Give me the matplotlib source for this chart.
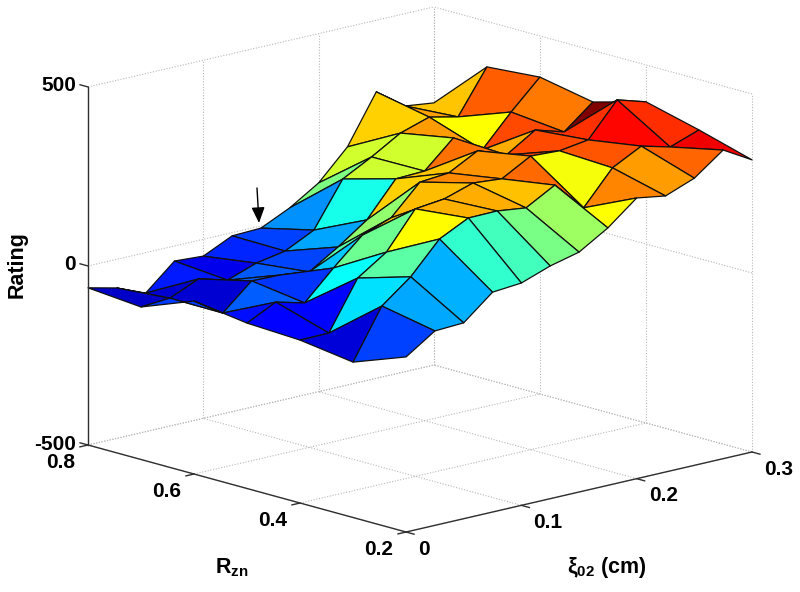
import matplotlib
matplotlib.use('Agg')
import matplotlib.pyplot as plt
from matplotlib.colors import LinearSegmentedColormap
import numpy as np
from mpl_toolkits.mplot3d import proj3d

plt.rcParams['font.family'] = ['Liberation Sans', 'DejaVu Sans']
plt.rcParams['font.weight'] = 'bold'
plt.rcParams['mathtext.fontset'] = 'custom'
plt.rcParams['mathtext.bf'] = 'Liberation Sans:bold'
plt.rcParams['mathtext.rm'] = 'Liberation Sans:bold'
plt.rcParams['mathtext.default'] = 'bf'

xi = [0, .025, .05, .075, .1, .125, .15, .175, .2, .225, .25, .275, .3]
rzn = [.2, .3, .4, .5, .6, .7, .8]

# rating, one row per Rzn value
rating_r2 = [-11, 43, 47, 114, 121, 150, 170, 219, 284, 271, 302, 362, 316]
rating_r3 = [-66, 72, 135, 222, 262, 263, 253, 298, 216, 309, 351, 330, 359]
rating_r4 = [-45, -44, 91, 145, 247, 256, 282, 275, 320, 316, 328, 421, 397]
rating_r5 = [-38, 2, -19, 60, 133, 163, 244, 251, 294, 264, 315, 291, 356]
rating_r6 = [-17, -69, 2, 0, -10, 41, 98, 194, 197, 271, 219, 306, 385]
rating_r7 = [-74, -68, -33, -55, -26, -11, 29, 153, 196, 244, 270, 252, 373]
rating_r8 = [-61, -80, -113, -42, -47, -9, -6, 32, 83, 165, 300, 242, 232]

xticks = [0, .1, .2, .3]
yticks = [.2, .4, .6, .8]
zticks = [-500, 0, 500]
xticklabels = ['0', '0.1', '0.2', '0.3']
yticklabels = ['0.2', '0.4', '0.6', '0.8']
zticklabels = ['-500', '0', '500']

X, Y = np.meshgrid(xi, rzn)
Z = np.array([rating_r2, rating_r3, rating_r4, rating_r5, rating_r6, rating_r7, rating_r8])

# matlab's jet is a bit different from the matplotlib one
matlab_jet = LinearSegmentedColormap('matlab_jet', {
    'red': [(0, 0, 0), (.375, 0, 0), (.625, 1, 1), (.875, 1, 1), (1, .5, .5)],
    'green': [(0, 0, 0), (.125, 0, 0), (.375, 1, 1), (.625, 1, 1), (.875, 0, 0), (1, 0, 0)],
    'blue': [(0, .5, .5), (.125, 1, 1), (.375, 1, 1), (.625, 0, 0), (1, 0, 0)],
})

W, H = 800, 592
fig = plt.figure(figsize=(W / 100, H / 100), dpi=100)
ax = fig.add_axes([0.1, 0.1, 0.8, 0.8 * W / H], projection='3d')
ax.set_proj_type('ortho')
ax.view_init(elev=14.57, azim=-132.6)
ax.set_box_aspect((470, 470, 370))
ax.set_xlim(0, .3)
ax.set_ylim(.2, .8)
ax.set_zlim(-500, 500)
ax.set_axis_off()
ax.computed_zorder = False


def to_px(x, y, z):
    px, py, _ = proj3d.proj_transform(x, y, z, ax.get_proj())
    dx, dy = ax.transData.transform((px, py))
    return dx, H - dy


# fit the axes so that the box corners land where they should
for _ in range(3):
    fig.canvas.draw()
    left = to_px(0, .8, -500)
    right = to_px(.3, .2, -500)
    scale = 664 / (right[0] - left[0])
    pos = ax.get_position(original=True)
    w, h = pos.width * scale, pos.height * scale
    cx = pos.x0 + pos.width / 2 + (88 - left[0]) / W
    cy = pos.y0 + pos.height / 2 - (445 - left[1]) / H
    ax.set_position([cx - w / 2, cy - h / 2, w, h])

fig.canvas.draw()

# dotted grid on floor and the two back walls
grid = dict(color='#b8b8b8', lw=0.8, ls=(0, (1, 1.5)), zorder=1, clip_on=False)
for x in xticks:
    ax.plot([x, x], [.2, .8], [-500, -500], **grid)
    ax.plot([x, x], [.8, .8], [-500, 500], **grid)
for y in yticks:
    ax.plot([0, .3], [y, y], [-500, -500], **grid)
    ax.plot([.3, .3], [y, y], [-500, 500], **grid)
for z in zticks:
    ax.plot([0, .3], [.8, .8], [z, z], **grid)
    ax.plot([.3, .3], [.2, .8], [z, z], **grid)

# flat faces, colour taken from the lower corner like matlab surf
norm = plt.Normalize(Z.min(), Z.max())
colors = matlab_jet(norm(Z))
ax.plot_surface(X, Y, Z, facecolors=colors, rstride=1, cstride=1, shade=False,
                edgecolor='#101010', linewidth=0.9, antialiased=True, zorder=2)

# axes lines and ticks
line = dict(color='#303030', lw=1.0, zorder=3, clip_on=False)
ax.plot([0, .3], [.2, .2], [-500, -500], **line)
ax.plot([0, 0], [.2, .8], [-500, -500], **line)
ax.plot([0, 0], [.8, .8], [-500, 500], **line)
for x in xticks:
    ax.plot([x, x], [.2, .185], [-500, -500], **line)
for y in yticks:
    ax.plot([0, -.007], [y, y], [-500, -500], **line)
for z in zticks:
    ax.plot([0, 0], [.8, .815], [z, z], **line)

fs = 15
for x, lab in zip(xticks, xticklabels):
    px, py, _ = proj3d.proj_transform(x, .2, -500, ax.get_proj())
    ax.annotate(lab, (px, py), xytext=(12, -17), textcoords='offset pixels',
                ha='left', va='center', fontsize=fs)
for y, lab in zip(yticks, yticklabels):
    px, py, _ = proj3d.proj_transform(0, y, -500, ax.get_proj())
    ax.annotate(lab, (px, py), xytext=(-13, -17), textcoords='offset pixels',
                ha='right', va='center', fontsize=fs)
for z, lab in zip(zticks, zticklabels):
    px, py, _ = proj3d.proj_transform(0, .8, z, ax.get_proj())
    ax.annotate(lab, (px, py), xytext=(-12, 1), textcoords='offset pixels',
                ha='right', va='center', fontsize=fs)

fig.text(17 / W, 1 - 265 / H, 'Rating', rotation=90, ha='center', va='center', fontsize=15.5)
fig.text(232 / W, 1 - 568 / H, r'R$_{zn}$', ha='center', va='center', fontsize=15.5)
fig.text(607 / W, 1 - 568 / H, 'ξ$_{02}$ (cm)', ha='center', va='center', fontsize=15.5)

# arrow marking the point of interest
ax.annotate('', xy=(259 / W, 1 - 223 / H), xytext=(257 / W, 1 - 188 / H),
            xycoords='figure fraction', textcoords='figure fraction',
            arrowprops=dict(arrowstyle='-|>,head_length=0.95,head_width=0.4',
                            color='black', lw=1.0, shrinkA=0, shrinkB=0))

fig.savefig('out.png', dpi=100)
plt.close()
